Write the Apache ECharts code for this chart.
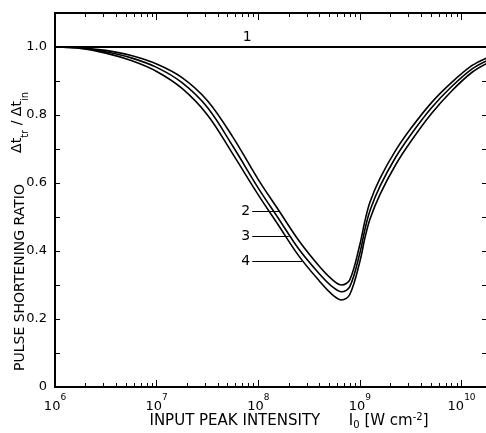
<!DOCTYPE html>
<html>
<head>
<meta charset="utf-8">
<script src="https://cdn.jsdelivr.net/npm/echarts@6/dist/echarts.min.js"></script>
<style>
  html, body { margin: 0; padding: 0; background: #fff; }
  #chart { width: 486px; height: 433px; }
</style>
</head>
<body>
<div id="chart"></div>
<script>
// x values are log10 of input peak intensity (W cm^-2)
var xLog = [6.0, 6.25, 6.5, 6.75, 7.0, 7.25, 7.5, 7.75, 8.0, 8.2, 8.4, 8.6, 8.72, 8.82, 8.9, 9.0, 9.05, 9.1, 9.2, 9.35, 9.5, 9.7, 9.9, 10.1, 10.25];
var curve1 = [1.0, 1.0];
var curve1X = [6.0, 10.25];
var curve2 = [1.0, 0.998, 0.99, 0.975, 0.95, 0.91, 0.842, 0.735, 0.61, 0.52, 0.43, 0.355, 0.318, 0.30, 0.315, 0.42, 0.49, 0.545, 0.615, 0.695, 0.76, 0.835, 0.895, 0.945, 0.968];
var curve3 = [1.0, 0.997, 0.986, 0.968, 0.94, 0.895, 0.822, 0.708, 0.585, 0.495, 0.405, 0.333, 0.297, 0.28, 0.295, 0.395, 0.465, 0.52, 0.592, 0.675, 0.742, 0.82, 0.883, 0.935, 0.96];
var curve4 = [1.0, 0.996, 0.982, 0.96, 0.928, 0.878, 0.80, 0.685, 0.565, 0.475, 0.385, 0.312, 0.274, 0.256, 0.272, 0.37, 0.44, 0.495, 0.568, 0.653, 0.722, 0.803, 0.87, 0.925, 0.952];
var decades = [6, 7, 8, 9, 10];
var yLabels = [0, 0.2, 0.4, 0.6, 0.8, 1.0];
// where the curve numbers sit: [x of leader start, y, x where leader meets curve]
var tag1 = [7.89, 1.0];
var tag2 = [7.94, 0.518, 8.21];
var tag3 = [7.94, 0.444, 8.30];
var tag4 = [7.94, 0.371, 8.43];

var font = 'DejaVu Sans';
var minorVals = [];
decades.forEach(function (n) {
    for (var k = 2; k <= 9; k++) {
        var v = n + Math.log10(k);
        if (v <= 10.25) minorVals.push(v);
    }
});

function pairs(xs, ys) {
    return xs.map(function (x, i) { return [x, ys[i]]; });
}

function xAxis(pos, vals, len, labels) {
    return {
        type: 'value', position: pos, min: 6, max: 10.25,
        splitLine: { show: false },
        axisLine: { show: true, lineStyle: { color: '#000', width: 2 } },
        axisTick: { show: true, inside: true, length: len, customValues: vals, lineStyle: { color: '#000', width: 1 } },
        axisLabel: labels ? {
            show: true, customValues: decades, margin: 6,
            formatter: function (v) { return '{b|10}{s|' + v + '}'; },
            rich: {
                b: { fontFamily: font, fontSize: 13, color: '#000', verticalAlign: 'bottom', lineHeight: 20 },
                s: { fontFamily: font, fontSize: 9, color: '#000', verticalAlign: 'top', lineHeight: 20 }
            }
        } : { show: false }
    };
}

function yAxis(pos, labels) {
    var ax = {
        type: 'value', position: pos, min: 0, max: 1.1, interval: 0.1,
        splitLine: { show: false },
        axisLine: { show: true, lineStyle: { color: '#000', width: 2 } },
        axisTick: { show: true, inside: true, length: 5, lineStyle: { color: '#000' } },
        axisLabel: { show: false }
    };
    if (labels) {
        ax.axisLabel = {
            show: true, customValues: yLabels, margin: 8,
            fontFamily: font, fontSize: 13, color: '#000',
            formatter: function (v) { return v === 0 ? '0' : v.toFixed(1); }
        };
        ax.name = 'PULSE SHORTENING RATIO       {d|Δt}{sub|tr} {d|/ Δt}{sub|in}';
        ax.nameLocation = 'middle';
        ax.nameRotate = 90;
        ax.nameGap = 25;
        ax.nameMoveOverlap = false;
        ax.nameTextStyle = {
            fontFamily: font, fontSize: 14, color: '#000', padding: [0, 63, 0, 0],
            rich: {
                d: { fontFamily: font, fontSize: 14, color: '#000', verticalAlign: 'top', lineHeight: 20 },
                sub: { fontFamily: font, fontSize: 10, color: '#000', verticalAlign: 'bottom', lineHeight: 20 }
            }
        };
    }
    return ax;
}

function leader(tag, text) {
    return {
        silent: true, symbol: 'none',
        lineStyle: { color: '#000', width: 1, type: 'solid' },
        label: { show: true, position: 'start', formatter: text, distance: 2, fontFamily: font, fontSize: 14, color: '#000' },
        data: [[{ coord: [tag[0], tag[1]] }, { coord: [tag[2], tag[1]] }]]
    };
}

var chart = echarts.init(document.getElementById('chart'));
var bottomMain = xAxis('bottom', decades, 7, true);
bottomMain.name = 'INPUT PEAK INTENSITY      I{sub|0} [W cm{sup|-2}]';
bottomMain.nameLocation = 'middle';
bottomMain.nameGap = 25;
bottomMain.nameMoveOverlap = false;
bottomMain.nameTextStyle = {
    fontFamily: font, fontSize: 15, color: '#000', padding: [0, 0, 0, 36],
    rich: {
        sub: { fontFamily: font, fontSize: 10, color: '#000', verticalAlign: 'bottom', lineHeight: 18 },
        sup: { fontFamily: font, fontSize: 10, color: '#000', verticalAlign: 'top', lineHeight: 18 }
    }
};

var lineStyle = { color: '#000', width: 1.6 };

chart.setOption({
    animation: false,
    backgroundColor: '#fff',
    grid: { left: 55, top: 13, right: -1, bottom: 46, outerBoundsMode: 'none', containLabel: false },
    xAxis: [
        bottomMain,
        xAxis('bottom', minorVals, 4, false),
        xAxis('top', decades, 7, false),
        xAxis('top', minorVals, 4, false)
    ],
    yAxis: [yAxis('left', true), yAxis('right', false)],
    series: [
        {
            name: '1', type: 'line', showSymbol: false, data: pairs(curve1X, curve1),
            lineStyle: { color: '#000', width: 2 },
            markPoint: {
                symbol: 'circle', symbolSize: 0,
                label: { show: true, position: 'top', distance: 3, formatter: '1', fontFamily: font, fontSize: 14, color: '#000' },
                data: [{ coord: tag1 }]
            }
        },
        { name: '2', type: 'line', showSymbol: false, smooth: 0.35, data: pairs(xLog, curve2), lineStyle: lineStyle, markLine: leader(tag2, '2') },
        { name: '3', type: 'line', showSymbol: false, smooth: 0.35, data: pairs(xLog, curve3), lineStyle: lineStyle, markLine: leader(tag3, '3') },
        { name: '4', type: 'line', showSymbol: false, smooth: 0.35, data: pairs(xLog, curve4), lineStyle: lineStyle, markLine: leader(tag4, '4') }
    ]
});
</script>
</body>
</html>
